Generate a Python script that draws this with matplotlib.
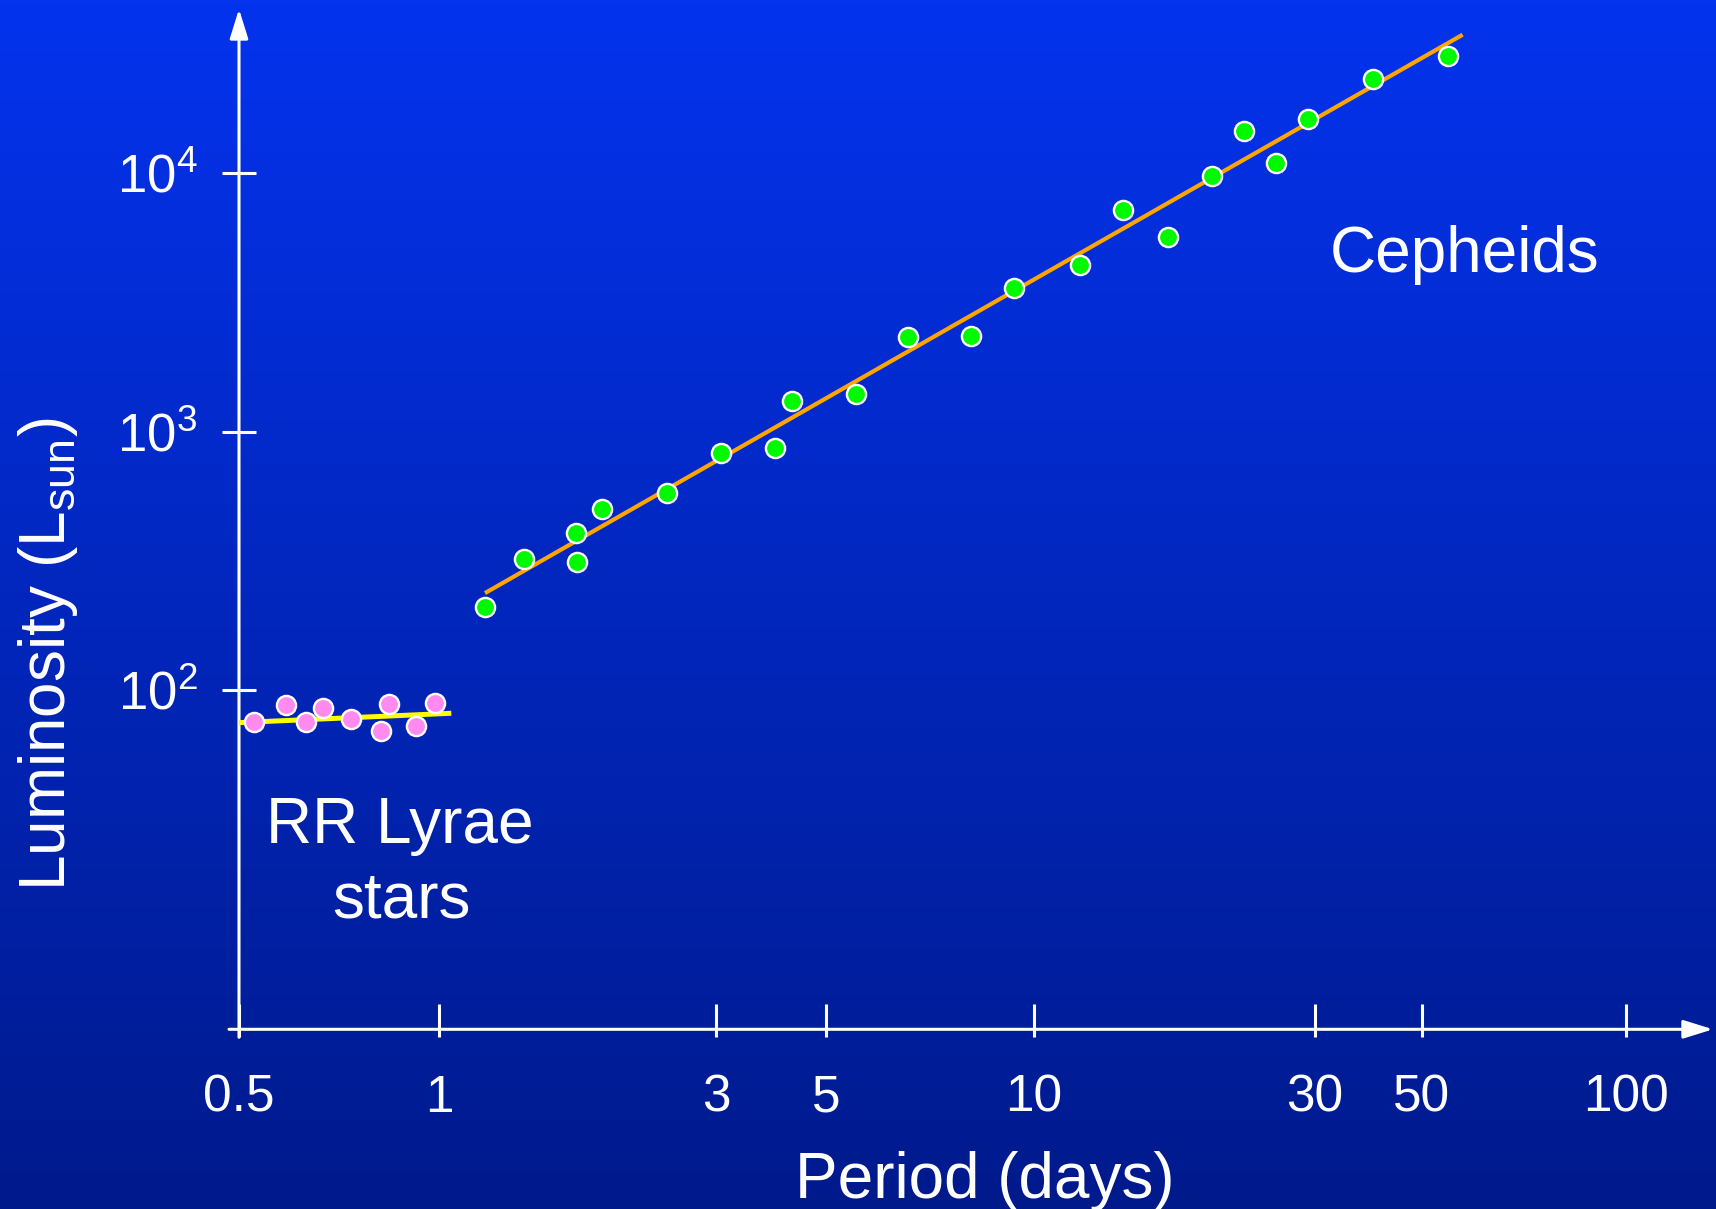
import numpy as np
import matplotlib
matplotlib.use("Agg")
import matplotlib.pyplot as plt
from matplotlib.colors import LinearSegmentedColormap

plt.rcParams['font.family'] = ['Liberation Sans', 'DejaVu Sans']
plt.rcParams['mathtext.fontset'] = 'custom'
plt.rcParams['mathtext.rm'] = 'Liberation Sans'

# RR Lyrae stars: period (days), luminosity (L_sun)
rr_period = [0.527, 0.588, 0.631, 0.670, 0.736, 0.817, 0.842, 0.923, 0.985]
rr_lum = [75.0, 87.3, 75.2, 85.0, 77.4, 69.6, 88.3, 72.7, 88.9]
rr_fit_period = [0.5, 1.05]
rr_fit_lum = [74.7, 81.2]

# Cepheids
ceph_period = [1.20, 1.40, 1.72, 1.73, 1.91, 2.47, 3.07, 3.95, 4.28, 5.52, 6.57,
               8.12, 9.37, 11.97, 14.15, 16.87, 20.08, 22.75, 25.78, 29.22, 39.63, 54.67]
ceph_lum = [210, 321, 404, 313, 503, 577, 824, 866, 1314, 1392, 2324,
            2351, 3587, 4416, 7193, 5667, 9736, 14580, 10930, 16230, 23110, 28460]
ceph_fit_period = [1.2, 57.4]
ceph_fit_lum = [237, 34400]

x_ticks = [0.5, 1, 3, 5, 10, 30, 50, 100]
x_tick_labels = ['0.5', '1', '3', '5', '10', '30', '50', '100']
y_ticks = [1e2, 1e3, 1e4]
y_tick_labels = [r'$\mathregular{10^2}$', r'$\mathregular{10^3}$', r'$\mathregular{10^4}$']

# the period axis in the original is hand drawn: ticks sit at these
# fractions of the axis length instead of exact log spacing
tick_frac = [0.0, 0.1357, 0.3236, 0.3982, 0.5393, 0.7300, 0.8026, 0.9410]
log_ticks = list(np.log10(x_ticks))


def warp(u, xs, ys):
    u = np.asarray(u, dtype=float)
    s0 = (ys[1] - ys[0]) / (xs[1] - xs[0])
    s1 = (ys[-1] - ys[-2]) / (xs[-1] - xs[-2])
    return np.where(u < xs[0], ys[0] + (u - xs[0]) * s0,
                    np.where(u > xs[-1], ys[-1] + (u - xs[-1]) * s1,
                             np.interp(u, xs, ys)))


def forward(x):
    return warp(np.log10(np.maximum(np.asarray(x, dtype=float), 1e-12)), log_ticks, tick_frac)


def inverse(f):
    return 10 ** warp(f, tick_frac, log_ticks)


W, H = 1716, 1209
fig = plt.figure(figsize=(W / 100, H / 100), dpi=100)

# background gradient
bg = fig.add_axes([0, 0, 1, 1], zorder=-10)
cmap = LinearSegmentedColormap.from_list('bg', ['#0433EE', '#001A8C'])
bg.imshow(np.linspace(0, 1, 256).reshape(-1, 1), cmap=cmap, aspect='auto',
          extent=[0, 1, 0, 1])
bg.set_axis_off()

ax = fig.add_axes([239 / W, 1 - 1029.3 / H, 1474 / W, 1020.3 / H])
ax.set_facecolor('none')
ax.set_xscale('function', functions=(forward, inverse))
ax.set_yscale('log')
ax.set_xlim(0.5, float(inverse(1.0)))
ax.set_ylim(4.853, 43260)

ax.plot(rr_fit_period, rr_fit_lum, color='#FFFF00', lw=3.6, solid_capstyle='butt', zorder=3)
ax.plot(ceph_fit_period, ceph_fit_lum, color='#FFA500', lw=3.0, solid_capstyle='butt', zorder=3)
ax.plot(rr_period, rr_lum, 'o', ms=13.8, mfc='#FF8AF0', mec='white', mew=1.7, zorder=4, clip_on=False)
ax.plot(ceph_period, ceph_lum, 'o', ms=13.8, mfc='#00F800', mec='white', mew=1.7, zorder=4, clip_on=False)

for s in ax.spines.values():
    s.set_visible(False)

# axis lines with arrows
arrow = dict(arrowstyle='-|>,head_length=0.9,head_width=0.28', lw=2.2, color='white',
             mutation_scale=20, shrinkA=0, shrinkB=0)
ax.annotate('', xy=(1.0, 0), xytext=(-10 / 1474, 0), xycoords='axes fraction',
            arrowprops=arrow, zorder=2)
ax.annotate('', xy=(0, 1.0), xytext=(0, -8 / 1020.3), xycoords='axes fraction',
            arrowprops=arrow, zorder=2)

ax.xaxis.remove_overlapping_locs = False
ax.set_xticks(x_ticks)
ax.set_xticklabels(x_tick_labels)
ax.set_xticks(x_ticks, minor=True)
ax.xaxis.set_minor_formatter(matplotlib.ticker.NullFormatter())
ax.tick_params(axis='x', which='major', direction='in', length=18, width=2.2,
               color='white', labelcolor='white', labelsize=37, pad=32)
ax.tick_params(axis='x', which='minor', direction='out', length=5.8, width=2.2, color='white')

ax.set_yticks(y_ticks)
ax.set_yticklabels(y_tick_labels)
ax.yaxis.set_minor_locator(matplotlib.ticker.NullLocator())
ax.tick_params(axis='y', which='major', direction='inout', length=24, width=2.2,
               color='white', labelcolor='white', labelsize=38, pad=18)

fig.text(985 / W, 1 - 1198 / H, 'Period (days)', color='white', fontsize=46,
         ha='center', va='baseline')
fig.text(48 / W, 1 - 654 / H, r'Luminosity ($\mathregular{L_{sun}}$)', color='white',
         fontsize=46, rotation=90, ha='center', va='center')
fig.text(1465 / W, 1 - 272 / H, 'Cepheids', color='white', fontsize=46,
         ha='center', va='baseline')
fig.text(400 / W, 1 - 843 / H, 'RR Lyrae', color='white', fontsize=46,
         ha='center', va='baseline')
fig.text(401 / W, 1 - 917 / H, 'stars', color='white', fontsize=46,
         ha='center', va='baseline')

fig.savefig('out.png', dpi=100)
